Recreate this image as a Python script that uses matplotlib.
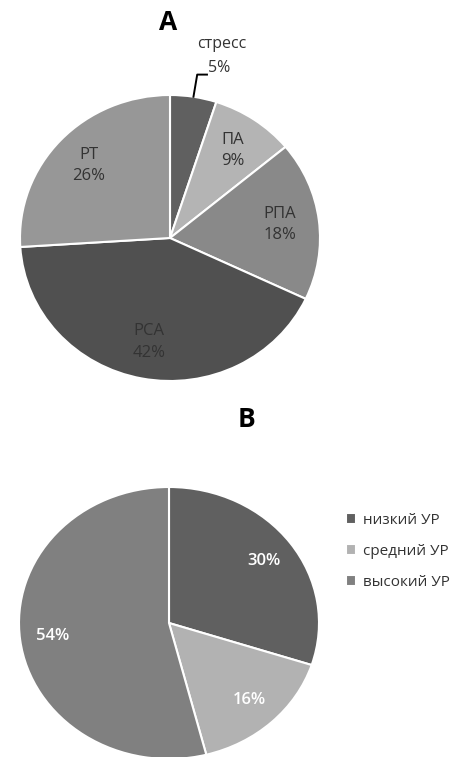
import numpy as np
import matplotlib
matplotlib.use("Agg")
import matplotlib.pyplot as plt

plt.rcParams['font.family'] = ['Open Sans', 'DejaVu Sans']

# A: группы
names_a = ['стресс', 'ПА', 'РПА', 'РСА', 'РТ']
values_a = [5, 9, 18, 42, 26]
colors_a = ['#606060', '#b4b4b4', '#898989', '#505050', '#979797']

# B: уровни
names_b = ['низкий УР', 'средний УР', 'высокий УР']
values_b = [30, 16, 54]
colors_b = ['#606060', '#b2b2b2', '#808080']

W, H = 469, 757
fig = plt.figure(figsize=(W / 100, H / 100), dpi=100)


def px_axes(cx, cy, rx, ry):
    # axes box in pixel units (top-left origin) -> figure fraction
    return fig.add_axes([(cx - rx) / W, (H - cy - ry) / H, 2 * rx / W, 2 * ry / H])


# ---- pie A
ax1 = px_axes(170, 238, 150, 143)
labels_a = [f"{n}\n{v}%" for n, v in zip(names_a, values_a)]
labels_a[0] = ''
wedges_a, texts_a = ax1.pie(values_a, colors=colors_a, startangle=90, counterclock=False,
                            labels=labels_a, labeldistance=0.74,
                            wedgeprops=dict(edgecolor='white', linewidth=1.5),
                            textprops=dict(fontsize=12, color='#333333', ha='center', va='center',
                                           linespacing=1.45))
ax1.set_xlim(-1, 1)
ax1.set_ylim(-1, 1)
ax1.set_aspect('auto')
ax1.axis('off')

# outer label for стресс with a leader line
w0 = wedges_a[0]
ang = np.deg2rad((w0.theta1 + w0.theta2) / 2)
x0, y0 = np.cos(ang), np.sin(ang)
ax1.plot([x0, x0 + 0.025, x0 + 0.09], [y0, y0 + 0.155, y0 + 0.155], color='black', lw=1.4,
         clip_on=False)
ax1.text(x0 + 0.095, y0 + 0.2, f"{values_a[0]}%", fontsize=11.5, color='#333333',
         ha='left', va='center', clip_on=False)
ax1.text(x0 + 0.19, y0 + 0.37, names_a[0], fontsize=11.5, color='#333333',
         ha='center', va='center', clip_on=False)

fig.text(168 / W, 1 - 22 / H, 'A', fontsize=19, fontweight='bold', ha='center', va='center')

# ---- pie B
ax2 = px_axes(169, 623, 150, 136)
wedges_b, texts_b, auto_b = ax2.pie(values_b, colors=colors_b, startangle=90, counterclock=False,
                                    autopct='%1.0f%%', pctdistance=0.78,
                                    wedgeprops=dict(edgecolor='white', linewidth=1.5),
                                    textprops=dict(fontsize=12, color='white', fontweight='semibold'))
ax2.set_xlim(-1, 1)
ax2.set_ylim(-1, 1)
ax2.set_aspect('auto')
ax2.axis('off')

fig.text(247 / W, 1 - 419 / H, 'B', fontsize=19, fontweight='bold', ha='center', va='center')

fig.legend(wedges_b, names_b, loc='upper left', bbox_to_anchor=(332 / W, 1 - 499 / H),
           frameon=False, fontsize=11, handlelength=0.7, handleheight=0.7,
           handletextpad=0.4, labelspacing=1.05, labelcolor='#333333')

fig.savefig('out.png', dpi=100, facecolor='white')
